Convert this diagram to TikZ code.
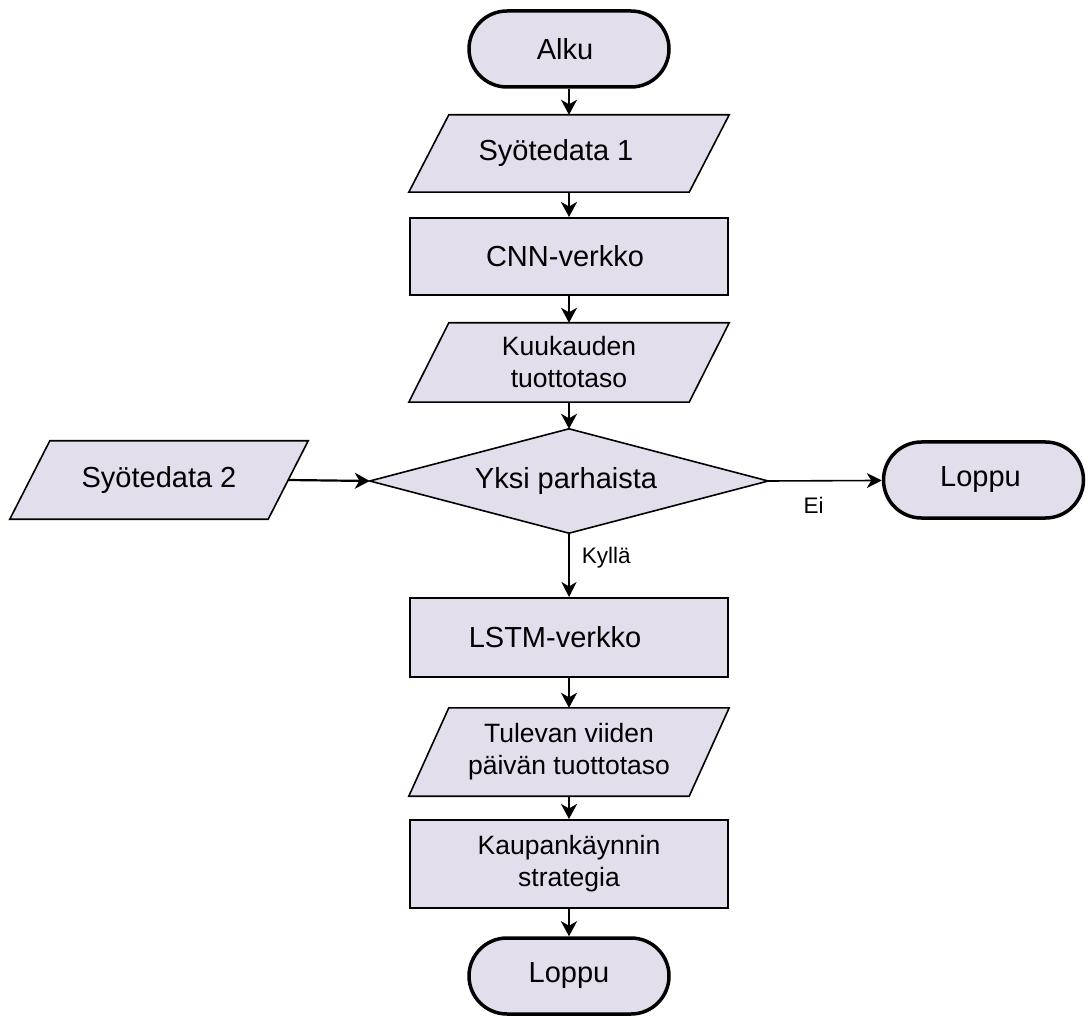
\documentclass[tikz,border=0pt]{standalone}
\usepackage{fontspec}
\setmainfont{Liberation Sans}
\usetikzlibrary{arrows.meta,calc,backgrounds}
\definecolor{boxfill}{RGB}{227,222,236}
\begin{document}
\begin{tikzpicture}[x=1pt,y=-1pt,
  base/.style={inner sep=0pt, align=center, font=\fontsize{29}{33}\selectfont},
  small/.style={font=\fontsize{26.5}{32}\selectfont},
  term/.style={base, draw, fill=boxfill, line width=3.5pt, rounded corners=38pt,
    minimum width=200pt, minimum height=76pt},
  proc/.style={base, draw, fill=boxfill, line width=2pt, minimum width=318pt},
  io/.style={base, minimum width=320pt},
  dec/.style={base, minimum width=398pt, minimum height=104pt},
  shapeline/.style={draw, fill=boxfill, line width=1.6pt, line join=miter},
  flow/.style={line width=2.2pt, -{Stealth[length=15pt, width=16pt, inset=4.5pt]}},
  thin/.style={line width=1.6pt, -{Stealth[length=15pt, width=15pt, inset=4.5pt]}},
  lbl/.style={font=\fontsize{22.5}{26}\selectfont, inner sep=0pt}
]
\useasboundingbox (0,0) rectangle (1088,1016);

% main column
\node[term] (alku) at (569,49) {Alku\hspace*{8pt}};
\node[io, minimum height=77pt] (in1) at (569,153.5) {Syötedata 1\hspace*{26pt}};
\node[proc, minimum height=77pt] (cnn) at (569,256.5) {CNN-verkko\hspace*{8pt}};
\node[io, small, minimum height=79pt] (kk) at (569,362.5) {Kuukauden\\tuottotaso};
\node[dec] (dec) at (569,481) {Yksi parhaista\hspace*{6pt}};
\node[proc, minimum height=79pt] (lstm) at (569,637.5) {LSTM-verkko\hspace*{28pt}};
\node[io, small, minimum height=88pt] (tv) at (569,752) {Tulevan viiden\\päivän tuottotaso};
\node[proc, small, minimum height=88pt] (kaup) at (569,864) {Kaupankäynnin\\strategia};
\node[term] (loppu1) at (569,976) {Loppu};

% side branches
\node[io, minimum width=298pt, minimum height=78pt] (in2) at (159,480) {Syötedata 2};
\node[term] (loppu2) at (983.5,480) {Loppu\hspace*{6pt}};

% slanted input/output boxes and the decision diamond
\begin{scope}[on background layer]
  \foreach \n in {in1,kk,tv,in2}
    \draw[shapeline] ($(\n.north west)+(40,0)$) -- (\n.north east)
      -- ($(\n.south east)-(40,0)$) -- (\n.south west) -- cycle;
  \draw[shapeline] (dec.north) -- (dec.east) -- (dec.south) -- (dec.west) -- cycle;
\end{scope}

% connectors
\draw[flow] (alku) -- (in1);
\draw[flow] (in1) -- (cnn);
\draw[flow] (cnn) -- (kk);
\draw[flow] (kk) -- (dec.north);
\draw[thin] (dec.south) -- node[lbl, right=12pt, pos=0.38] (yes) {Kyllä} (lstm);
\draw[flow] (lstm) -- (tv);
\draw[flow] (tv) -- (kaup);
\draw[flow] (kaup) -- (loppu1);
\draw[flow] ($(in2.east)+(-20,0)$) -- (dec.west);
\draw[thin] (dec.east) -- node[lbl, below=16pt, pos=0.4] (no) {Ei} (loppu2);
\end{tikzpicture}
\end{document}
